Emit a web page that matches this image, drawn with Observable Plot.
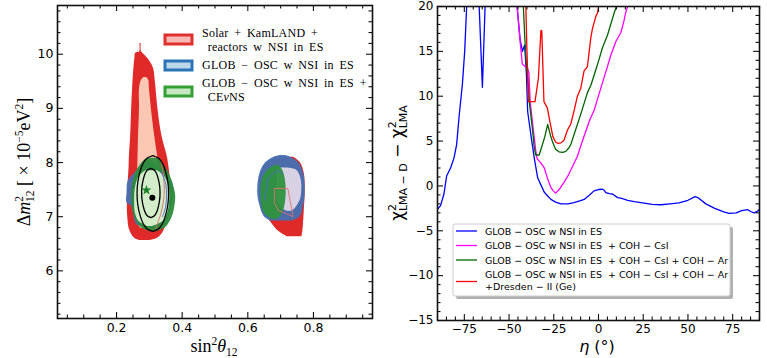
<!DOCTYPE html>
<html><head><meta charset="utf-8">
<script src="https://cdn.jsdelivr.net/npm/d3@7"></script>
<script src="https://cdn.jsdelivr.net/npm/@observablehq/plot@0.6"></script>
<style>
body{margin:0;background:#fff;}
#wrap{position:relative;width:767px;height:358px;overflow:hidden;font-family:"DejaVu Sans";background:#fff;}
.panel{position:absolute;top:0;}
</style></head><body><div id="wrap"></div>
<script>
// ================= LEFT PANEL DATA =================
// x: sin^2(theta12), y: Δm^2_12 [1e-5 eV^2]
// Each region row: [Δm², left sin², right sin²]
const redOuterLeft = [
  [6.56,0.270,0.300],[6.60,0.255,0.325],[6.75,0.240,0.345],[7.00,0.234,0.356],[7.30,0.233,0.362],
  [7.60,0.235,0.365],[7.90,0.238,0.360],[8.10,0.239,0.355],[8.50,0.243,0.338],[9.00,0.246,0.326],
  [9.50,0.250,0.318],[9.75,0.253,0.312],[9.93,0.256,0.294],[10.02,0.258,0.280],[10.04,0.270,0.276],[10.20,0.271,0.275]
];
const pinkInnerLeft = [
  [6.78,0.275,0.300],[6.90,0.262,0.320],[7.30,0.262,0.335],[7.60,0.263,0.338],[8.00,0.265,0.328],
  [8.50,0.267,0.316],[9.00,0.270,0.306],[9.37,0.270,0.300],[9.52,0.276,0.298],[9.57,0.283,0.292]
];
const redOuterRight = [
  [6.63,0.720,0.765],[6.75,0.690,0.768],[6.90,0.670,0.770],[7.10,0.645,0.772],[7.50,0.635,0.775],
  [7.80,0.640,0.772],[8.00,0.660,0.760],[8.10,0.690,0.740]
];
const blueOuterLeft = [
  [6.80,0.290,0.320],[6.85,0.262,0.350],[6.95,0.255,0.357],[7.20,0.245,0.368],[7.25,0.232,0.370],
  [7.45,0.232,0.375],[7.65,0.235,0.370],[7.80,0.255,0.350],[7.95,0.280,0.320],[8.00,0.295,0.305]
];
const blueOuterRight = [
  [6.92,0.670,0.735],[7.00,0.650,0.760],[7.20,0.637,0.770],[7.45,0.630,0.775],[7.80,0.637,0.770],
  [8.00,0.655,0.755],[8.10,0.680,0.730],[8.13,0.700,0.715]
];
const blueInnerRight = [
  [7.10,0.720,0.735],[7.18,0.700,0.748],[7.35,0.690,0.762],[7.70,0.690,0.762],[7.86,0.690,0.748],[7.90,0.700,0.720]
];
const greenOuterLeft = [
  [6.72,0.305,0.320],[6.80,0.275,0.350],[7.00,0.255,0.370],[7.20,0.248,0.378],[7.40,0.246,0.380],
  [7.60,0.249,0.372],[7.80,0.258,0.360],[7.95,0.272,0.345],[8.06,0.290,0.330],[8.08,0.310,0.320]
];
const greenInnerLeft = [
  [6.82,0.295,0.310],[6.90,0.270,0.340],[7.05,0.258,0.355],[7.30,0.255,0.362],[7.55,0.258,0.360],
  [7.75,0.270,0.345],[7.85,0.290,0.325]
];
const greenOuterRight = [
  [6.95,0.675,0.690],[7.05,0.652,0.705],[7.20,0.643,0.713],[7.45,0.640,0.717],[7.70,0.645,0.714],
  [7.85,0.660,0.707],[7.95,0.685,0.695]
];
// black contour lines, rows [Δm², left, right]
const blackOuter = [
  [6.72,0.312,0.312],[6.77,0.294,0.330],[6.87,0.282,0.342],[7.02,0.273,0.351],[7.22,0.266,0.358],
  [7.42,0.264,0.360],[7.62,0.266,0.358],[7.82,0.273,0.351],[7.97,0.282,0.342],[8.07,0.294,0.330],[8.12,0.312,0.312]
];
const blackInner = [
  [6.975,0.306,0.306],[7.01,0.295,0.317],[7.08,0.288,0.324],[7.18,0.283,0.329],[7.31,0.279,0.333],
  [7.43,0.278,0.334],[7.55,0.279,0.333],[7.68,0.283,0.329],[7.78,0.288,0.324],[7.85,0.295,0.317],[7.885,0.306,0.306]
];
// thin 1σ outlines showing through, points [sin², Δm²]
const redThinLeft = [[0.335,8.04],[0.343,7.75],[0.345,7.40],[0.335,7.06],[0.319,6.78]];
const blueThinLeft = [[0.335,7.83],[0.350,7.60],[0.350,7.20],[0.340,7.00]];
const redThinRight = [[0.681,7.52],[0.722,7.52],[0.738,7.00],[0.692,7.12],[0.681,7.27],[0.681,7.52]];
const blueThinRight = [[0.652,7.30],[0.660,7.70],[0.690,7.86],[0.705,7.80]];
const bestFit = [[0.309,7.35]];
const starFit = [[0.291,7.49]];
const leftXTicks = [0.2,0.4,0.6,0.8];
const leftYTicks = [6,7,8,9,10];
const leftLegend = [
  {lines:[[{t:"Solar + KamLAND +"}],[{t:" reactors w NSI in ES"}]], edge:"#e0302e", face:"#f7b9b6"},
  {lines:[[{t:"GLOB − OSC w NSI in ES"}]], edge:"#2a73b6", face:"#bcd6ec"},
  {lines:[[{t:"GLOB − OSC w NSI in ES +"}],[{t:" CE"},{t:"ν",italic:true},{t:"NS"}]], edge:"#33a033", face:"#c6e8c1"}
];

// ================= RIGHT PANEL DATA =================
// [eta (deg), chi2_LMA-D - chi2_LMA]; values of 30 mean "off the top of the frame"
const blueCurve = [
  [-90,-2.6],[-88.3,-2.2],[-86.4,-0.9],[-84.9,1.1],[-82.7,2.0],[-80.8,3.1],[-79.3,4.6],[-78,7.6],[-76.1,11.3],
  [-74.8,15],[-73.7,20],[-72.5,30],[-67.5,30],[-66.7,20],[-64.9,11.0],[-63.4,20],[-62.5,30],[-47,30],
  [-45.5,20],[-43.8,16.3],[-42.5,15],[-41.3,15.7],[-40.3,12.5],[-39.6,8.3],[-37.8,5.7],[-35.9,3.1],[-34,0.9],
  [-32.4,0.2],[-30.3,-0.7],[-28,-1.2],[-26.6,-1.5],[-24,-1.8],[-21,-2.0],[-17,-2.0],[-13.7,-1.85],[-10,-1.65],
  [-8,-1.5],[-5,-1.0],[-2.5,-0.55],[0,-0.4],[2.2,-0.37],[3,-0.45],[4.1,-0.74],[6,-0.85],[7.8,-0.9],
  [10.7,-1.3],[13,-1.4],[16.3,-1.6],[20,-1.75],[23.7,-1.85],[30,-2.05],[35,-2.1],[40,-2.0],[45,-1.9],
  [50,-1.6],[54,-1.2],[55.5,-1.3],[60,-2.0],[65,-2.5],[70,-2.9],[73,-3.05],[77,-3.0],[80,-2.75],
  [83.5,-2.65],[85,-2.85],[87,-3.0],[89,-2.8],[90,-2.6]
];
const magentaCurve = [
  [-47,30],[-45.5,20],[-44,16.5],[-42.6,13.6],[-41,13.3],[-39.8,13.2],[-38.9,12.6],[-38.2,9.4],[-36.1,5.7],
  [-35,3.8],[-34.2,3.0],[-32.4,2.6],[-30.3,2.0],[-28.6,0.9],[-26.8,-0.1],[-25.5,-0.5],[-24,-0.8],[-22,-0.4],
  [-19.3,0.4],[-17.4,1.0],[-13.7,2.5],[-11.8,3.3],[-9,5],[-5,7.3],[-2.5,8.4],[1.3,10.9],[5,13.3],[6.9,14.6],
  [9.7,16.1],[12.5,17.1],[14,18.2],[15.3,19.4],[16.3,20],[18,30]
];
const greenCurve = [
  [-44,30],[-42,20],[-41.2,16.5],[-40.5,14],[-39.6,12],[-38.7,9.4],[-37,6.5],[-35.9,4.25],[-35.1,3.45],
  [-33.2,3.45],[-31.5,4.5],[-30,5.5],[-28.4,6.85],[-26.8,5.6],[-25.5,4.8],[-24,4.1],[-22.1,3.8],[-20,3.75],
  [-18.3,3.85],[-16.5,4.25],[-15.5,4.6],[-13.7,5.7],[-9.9,8.0],[-6.2,10.4],[-4.3,11.2],[-0.6,13.5],[2.2,15.4],
  [5,16.8],[8.8,19.3],[10,20],[12,30]
];
const redCurve = [
  [-41,30],[-40.6,20],[-40,15],[-39.5,12],[-39.2,9.4],[-35.5,9.4],[-33.6,12],[-32.2,17.3],[-31.7,17.3],
  [-30.5,9.4],[-28.6,8.7],[-27,7],[-25.5,5.5],[-24,4.9],[-22.5,4.75],[-21,4.8],[-19.3,5.1],[-17.4,6.2],
  [-15.5,6.9],[-13.5,8.5],[-11.8,10],[-9.9,10.9],[-8.1,12.8],[-6.2,13.3],[-4.3,16.5],[-3.4,17.5],[-1.5,18.9],
  [-0.5,19.3],[0,20],[0.5,30]
];
const rightXTicks = [-75,-50,-25,0,25,50,75];
const rightYTicks = [-15,-10,-5,0,5,10,15,20];
const rightLegend = [
  {lines:["GLOB − OSC w NSI in ES"], color:"#0000ff"},
  {lines:["GLOB − OSC w NSI in ES  + COH − CsI"], color:"#ff00ff"},
  {lines:["GLOB − OSC w NSI in ES  + COH − CsI + COH − Ar"], color:"#006400"},
  {lines:["GLOB − OSC w NSI in ES  + COH − CsI + COH − Ar","+Dresden − II (Ge)"], color:"#ff0000"}
];

// ================= HELPERS =================
const fmtMinus = d => d < 0 ? "\u2212" + (-d) : String(d);
function range(a, b, s) { const o = []; for (let v = a; v <= b + 1e-9; v += s) o.push(+v.toFixed(6)); return o; }
function frameTicks(xMaj, xMin, yMaj, yMin, iw, ih) {
  const M = 6, m = 3.5, st = {stroke: "#111", strokeWidth: 1.1};
  return [
    Plot.ruleX(xMaj, {x: d => d, insetBottom: ih - M, ...st}),
    Plot.ruleX(xMaj, {x: d => d, insetTop: ih - M, ...st}),
    Plot.ruleX(xMin, {x: d => d, insetBottom: ih - m, ...st}),
    Plot.ruleX(xMin, {x: d => d, insetTop: ih - m, ...st}),
    Plot.ruleY(yMaj, {y: d => d, insetRight: iw - M, ...st}),
    Plot.ruleY(yMaj, {y: d => d, insetLeft: iw - M, ...st}),
    Plot.ruleY(yMin, {y: d => d, insetRight: iw - m, ...st}),
    Plot.ruleY(yMin, {y: d => d, insetLeft: iw - m, ...st})
  ];
}
const region = (data, fill, extra = {}) =>
  Plot.areaX(data, {y: r => r[0], x1: r => r[1], x2: r => r[2], fill, curve: "catmull-rom", ...extra});

const wrap = document.getElementById("wrap");

// ================= LEFT PANEL =================
{
  const Wd = 380, mL = 57, mR = 8, mT = 5, mB = 40;
  const iw = Wd - mL - mR, ih = 358 - mT - mB;
  const xMinor = range(0.05, 0.95, 0.05).filter(v => !leftXTicks.some(t => Math.abs(t - v) < 1e-6));
  const yMinor = range(5.2, 10.8, 0.2).filter(v => !leftYTicks.some(t => Math.abs(t - v) < 1e-6));
  const xy = () => ({x: d => d[0], y: d => d[1]});
  const svg = Plot.plot({
    width: Wd, height: 358, marginLeft: mL, marginRight: mR, marginTop: mT, marginBottom: mB,
    style: {fontFamily: "DejaVu Sans", fontSize: "12.5px", color: "black", background: "white"},
    x: {domain: [0.02, 0.98], ticks: leftXTicks, tickFormat: d => d.toFixed(1), tickSize: 0, tickPadding: 5, label: null},
    y: {domain: [5.12, 10.9], ticks: leftYTicks, tickFormat: d => String(d), tickSize: 0, tickPadding: 4, label: null},
    marks: [
      region(redOuterLeft, "#e02a2a"),
      region(redOuterRight, "#e02a2a"),
      region(pinkInnerLeft, "#fcc8b3"),
      region(blueOuterLeft, "#4470b6", {fillOpacity: 0.92}),
      region(blueOuterRight, "#4470b2", {fillOpacity: 0.95}),
      region(blueInnerRight, "#d8d1e3"),
      region(greenOuterLeft, "#2c8c3b", {fillOpacity: 0.95}),
      region(greenInnerLeft, "#d3edca"),
      region(greenOuterRight, "#2e923e", {fillOpacity: 0.95}),
      Plot.line(redThinLeft, {...xy(), stroke: "#e06a6a", strokeWidth: 0.9, curve: "catmull-rom"}),
      Plot.line(blueThinLeft, {...xy(), stroke: "#4c68d8", strokeWidth: 0.9, curve: "catmull-rom"}),
      Plot.line(redThinRight, {...xy(), stroke: "#e07070", strokeWidth: 0.9}),
      Plot.line(blueThinRight, {...xy(), stroke: "#4c68d8", strokeWidth: 0.9}),
      region(blackOuter, "none", {stroke: "black", strokeWidth: 1.3}),
      region(blackInner, "none", {stroke: "black", strokeWidth: 1.3}),
      Plot.dot(bestFit, {...xy(), r: 3, fill: "black", stroke: "none"}),
      Plot.dot(starFit, {...xy(), r: 3.2, symbol: "star", fill: "#1a7f26", stroke: "none"}),
      ...frameTicks(leftXTicks, xMinor, leftYTicks, yMinor, iw, ih),
      Plot.frame({stroke: "#111", strokeWidth: 1.6})
    ]
  });
  svg.classList.add("panel");
  svg.style.left = "0px";
  wrap.appendChild(svg);
}

// ================= RIGHT PANEL =================
{
  const Wd = 387, mL = 57, mR = 8, mT = 6, mB = 38;
  const iw = Wd - mL - mR, ih = 358 - mT - mB;
  const xMinor = range(-90, 90, 5).filter(v => !rightXTicks.includes(v));
  const yMinor = range(-15, 20, 1).filter(v => !rightYTicks.includes(v));
  const ln = (data, stroke) => Plot.line(data, {x: d => d[0], y: d => d[1], stroke, strokeWidth: 1.3, clip: true});
  const svg = Plot.plot({
    width: Wd, height: 358, marginLeft: mL, marginRight: mR, marginTop: mT, marginBottom: mB,
    style: {fontFamily: "DejaVu Sans", fontSize: "12px", color: "black", background: "white", overflow: "visible"},
    x: {domain: [-90, 90], ticks: rightXTicks, tickFormat: fmtMinus, tickSize: 0, tickPadding: 4, label: null},
    y: {domain: [-15, 20], ticks: rightYTicks, tickFormat: fmtMinus, tickSize: 0, tickPadding: 4, label: null},
    marks: [
      ln(blueCurve, "#0000ff"),
      ln(magentaCurve, "#ff00ff"),
      ln(greenCurve, "#006400"),
      ln(redCurve, "#ff0000"),
      ...frameTicks(rightXTicks, xMinor, rightYTicks, yMinor, iw, ih),
      Plot.frame({stroke: "#111", strokeWidth: 1.6})
    ]
  });
  svg.classList.add("panel");
  svg.style.left = "380px";
  wrap.appendChild(svg);
}

// ================= OVERLAY: axis labels and legends =================
const ov = d3.select(wrap).append("svg").attr("width", 767).attr("height", 358)
  .style("position", "absolute").style("left", 0).style("top", 0).style("pointer-events", "none");

function rich(x, y, rot, parts, size, family, anchor = "middle") {
  const t = ov.append("text").attr("transform", `translate(${x},${y}) rotate(${rot})`)
    .attr("text-anchor", anchor).attr("font-family", family).attr("font-size", size).attr("fill", "black")
    .style("white-space", "pre");
  let shift = 0;
  for (const p of parts) {
    const s = p.shift || 0;
    const ts = t.append("tspan").text(p.t);
    if (s !== shift) ts.attr("dy", s - shift);
    if (p.size) ts.attr("font-size", p.size);
    if (p.italic) ts.attr("font-style", "italic");
    if (p.dx) ts.attr("dx", p.dx);
    shift = s;
  }
  return t;
}
const serif = "Liberation Serif";
// left x label
rich(214, 352, 0, [{t: "sin"}, {t: "2", shift: -7, size: 11.5}, {t: "θ", italic: true, shift: 0}, {t: "12", shift: 4, size: 11.5}], 18, serif);
// left y label
rich(30, 162, -90, [
  {t: "Δ"}, {t: "m", italic: true}, {t: "2", shift: -7, size: 11.5}, {t: "12", shift: 4, size: 11.5, dx: -6},
  {t: " [ × 10", shift: 0}, {t: "−5", shift: -7, size: 11.5}, {t: "eV", shift: 0}, {t: "2", shift: -7, size: 11.5}, {t: "]", shift: 0}
], 18, serif);
// right x label
rich(597, 352, 0, [{t: "η", italic: true}, {t: " (°)"}], 16, "DejaVu Sans");
// right y label
rich(403, 163, -90, [
  {t: "χ"}, {t: "2", shift: -7, size: 11}, {t: "LMA − D", shift: 4, size: 11, dx: -7},
  {t: " − ", shift: 0, size: 17}, {t: "χ"}, {t: "2", shift: -7, size: 11}, {t: "LMA", shift: 4, size: 11, dx: -7}
], 17, "DejaVu Sans");

// left legend
const patchY = [34, 60, 86], lineBase = [[36.5, 50.5], [69], [87, 101]];
leftLegend.forEach((e, i) => {
  ov.append("rect").attr("x", 165).attr("y", patchY[i] + 1).attr("width", 27).attr("height", 9)
    .attr("fill", e.face).attr("stroke", e.edge).attr("stroke-width", 3);
  e.lines.forEach((parts, j) => {
    rich(202, lineBase[i][j], 0, parts, 12, serif, "start").attr("word-spacing", "2.4px").attr("letter-spacing", "0.25px");
  });
});

// right legend
const box = {x: 453, y: 224, w: 277, h: 72};
ov.append("rect").attr("x", box.x + 3).attr("y", box.y + 3).attr("width", box.w).attr("height", box.h)
  .attr("fill", "#b0b0b0").attr("rx", 2);
ov.append("rect").attr("x", box.x).attr("y", box.y).attr("width", box.w).attr("height", box.h)
  .attr("fill", "white").attr("stroke", "#cccccc").attr("stroke-width", 1).attr("rx", 2);
const swY = [231, 245.5, 260, 281.5], txY = [[234.5], [249], [263.5], [278, 290]];
rightLegend.forEach((e, i) => {
  ov.append("line").attr("x1", 456).attr("x2", 477).attr("y1", swY[i]).attr("y2", swY[i])
    .attr("stroke", e.color).attr("stroke-width", 1.3);
  e.lines.forEach((l, j) => {
    ov.append("text").attr("x", 485).attr("y", txY[i][j]).attr("font-family", "DejaVu Sans")
      .attr("font-size", 9.5).attr("fill", "black").style("white-space", "pre").text(l);
  });
});
</script></body></html>
